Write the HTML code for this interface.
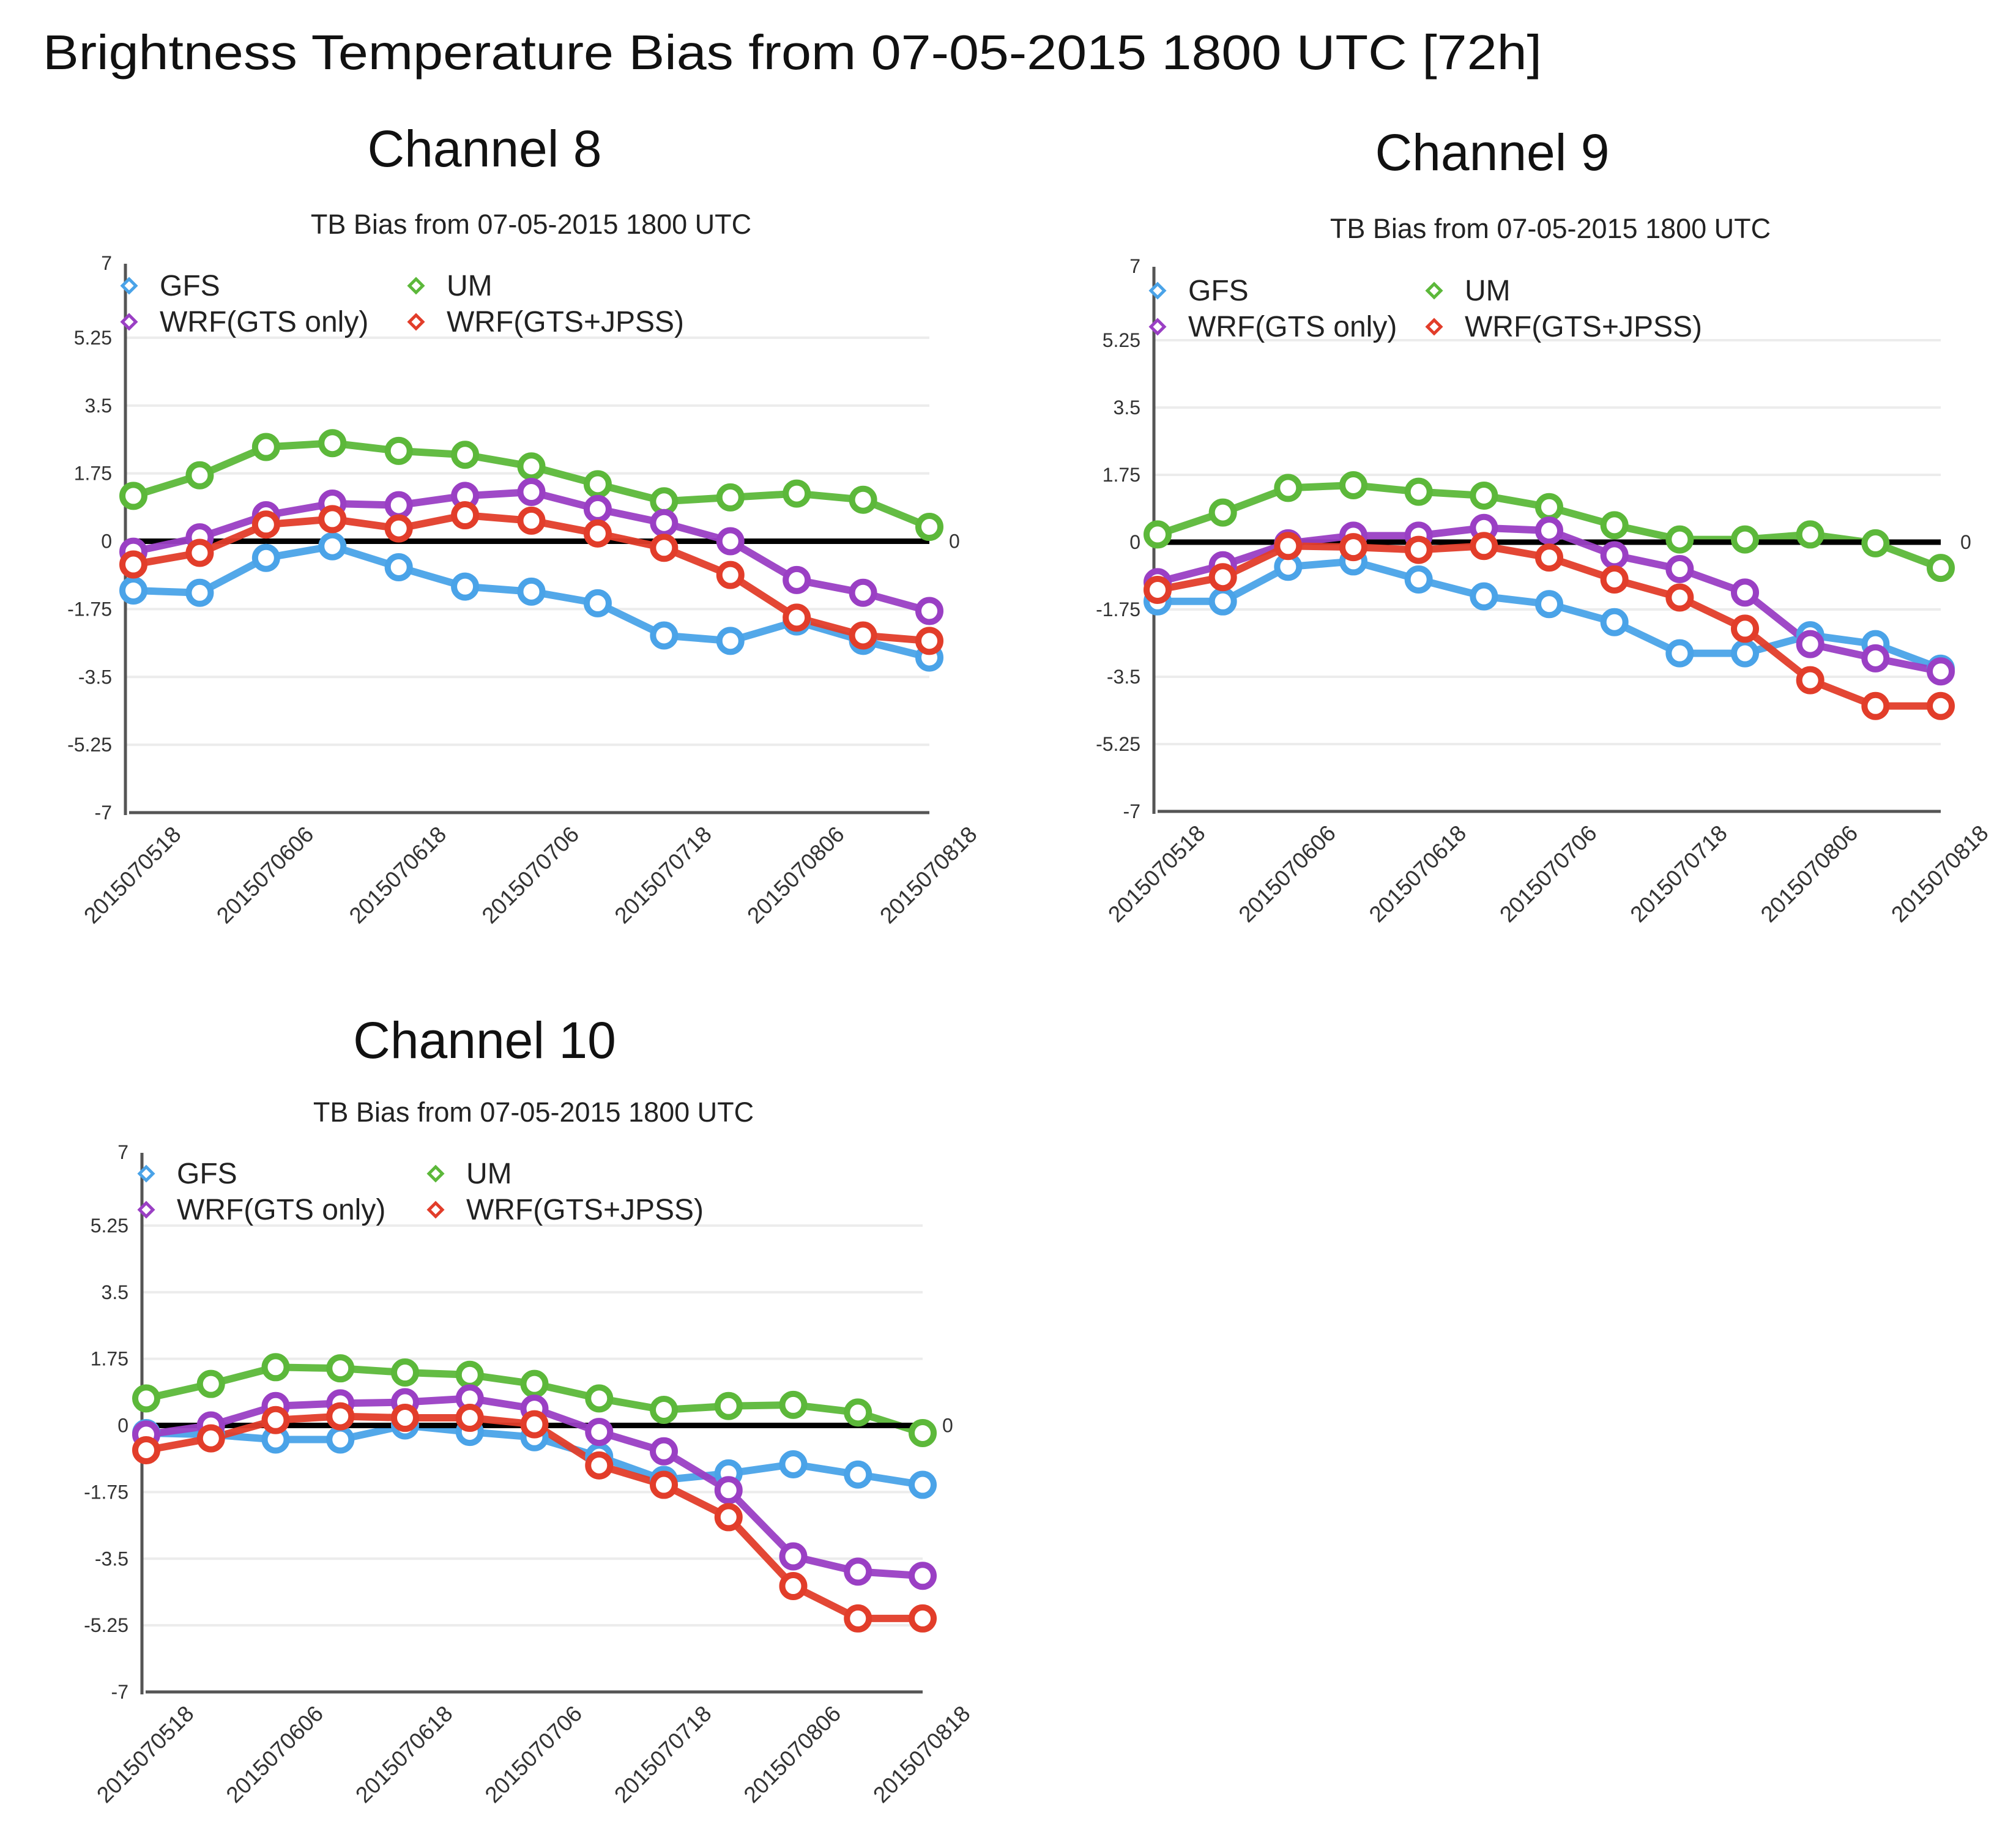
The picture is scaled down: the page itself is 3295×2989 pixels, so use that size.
<!DOCTYPE html>
<html><head><meta charset="utf-8">
<style>
html,body{margin:0;padding:0;background:#fff;}
svg{display:block;font-family:"Liberation Sans",sans-serif;}
</style></head>
<body>
<svg id="fig" width="3295" height="2989" viewBox="0 0 3295 2989" xmlns="http://www.w3.org/2000/svg">
<rect width="3295" height="2989" fill="#fff"/>
<text x="70" y="113" font-size="80" textLength="2450" lengthAdjust="spacingAndGlyphs" font-family="Liberation Sans, sans-serif" fill="#111">Brightness Temperature Bias from 07-05-2015 1800 UTC [72h]</text>
</svg>
<script>
const categories = ["2015070518","2015070600","2015070606","2015070612","2015070618","2015070700","2015070706","2015070712","2015070718","2015070800","2015070806","2015070812","2015070818"];
const yTicks = [7,5.25,3.5,1.75,0,-1.75,-3.5,-5.25,-7];
const tickLabels = ["7","5.25","3.5","1.75","0","-1.75","-3.5","-5.25","-7"];
const xLabelIdx = [0,2,4,6,8,10,12];
const seriesNames = ["GFS","UM","WRF(GTS only)","WRF(GTS+JPSS)"];
const seriesColors = ["#4aa3e8","#5cb83a","#9a3fc4","#e23d2a"];

const ch8GFS = [-1.27,-1.33,-0.43,-0.13,-0.67,-1.17,-1.3,-1.6,-2.43,-2.57,-2.07,-2.57,-3.0];
const ch8UM = [1.17,1.7,2.43,2.53,2.33,2.23,1.93,1.47,1.03,1.13,1.23,1.07,0.37];
const ch8GTS = [-0.27,0.1,0.67,0.97,0.93,1.17,1.27,0.83,0.47,0,-1.0,-1.33,-1.8];
const ch8JPSS = [-0.6,-0.3,0.43,0.57,0.33,0.67,0.53,0.2,-0.17,-0.87,-1.97,-2.43,-2.57];

const ch9GFS = [-1.54,-1.54,-0.64,-0.5,-0.97,-1.41,-1.61,-2.08,-2.89,-2.89,-2.42,-2.65,-3.29];
const ch9UM = [0.2,0.77,1.41,1.48,1.31,1.21,0.91,0.44,0.07,0.07,0.2,-0.03,-0.67];
const ch9GTS = [-1.04,-0.6,-0.03,0.17,0.17,0.37,0.3,-0.34,-0.7,-1.31,-2.65,-3.02,-3.36];
const ch9JPSS = [-1.24,-0.91,-0.1,-0.13,-0.2,-0.1,-0.4,-0.97,-1.44,-2.25,-3.59,-4.26,-4.26];

const ch10GFS = [-0.2,-0.24,-0.37,-0.37,0,-0.17,-0.31,-0.82,-1.43,-1.26,-1.02,-1.29,-1.56];
const ch10UM = [0.71,1.09,1.53,1.5,1.39,1.33,1.09,0.71,0.41,0.51,0.54,0.34,-0.2];
const ch10GTS = [-0.24,0,0.51,0.58,0.61,0.71,0.44,-0.17,-0.68,-1.7,-3.44,-3.84,-3.95];
const ch10JPSS = [-0.65,-0.34,0.14,0.24,0.2,0.2,0.03,-1.05,-1.56,-2.41,-4.22,-5.07,-5.07];

const NS = "http://www.w3.org/2000/svg";
const svg = document.getElementById("fig");
function mk(tag, attrs, parent){
  const e = document.createElementNS(NS, tag);
  for (const k in attrs) e.setAttribute(k, attrs[k]);
  (parent||svg).appendChild(e);
  return e;
}

function chart(cfg, series, key){
  const g = mk("g", {});
  
  
  const xs = i => cfg.x0 + (cfg.x1 - cfg.x0) * i / (categories.length - 1);
  const ys = v => cfg.top + (7 - v) / 14 * (cfg.bottom - cfg.top);
  const t = mk("text", {x:cfg.titleX, y:cfg.titleY, "font-size":84, "text-anchor":"middle", fill:"#111"}, g);
  t.textContent = cfg.title;
  
  
  const st = mk("text", {x:cfg.subX, y:cfg.subY, "font-size":45, "text-anchor":"middle", fill:"#222"}, g);
  st.textContent = "TB Bias from 07-05-2015 1800 UTC";
  
  
  yTicks.forEach((v, i) => {
    const y = ys(v);
    if (i > 0 && i < yTicks.length - 1) {
      const gl = mk("line", {x1:cfg.axisX, x2:cfg.x1, y1:y, y2:y, stroke:"#ececec", "stroke-width":4}, g);
      
      
    }
    const tl = mk("text", {x:cfg.axisX - 22, y:y + (i === 0 ? 0 : 11), "font-size":32, "text-anchor":"end", fill:"#333"}, g);
    tl.textContent = tickLabels[i];
    
    
  });
  const ax = mk("line", {x1:cfg.axisX, x2:cfg.axisX, y1:cfg.top - 10, y2:cfg.bottom + 4, stroke:"#555", "stroke-width":5}, g);
  
  
  const bx = mk("line", {x1:cfg.axisX + 6, x2:cfg.x1, y1:cfg.bottom, y2:cfg.bottom, stroke:"#555", "stroke-width":5}, g);
  
  
  xLabelIdx.forEach(i => {
    const x = xs(i) + 80, y = cfg.bottom + 38;
    const xl = mk("text", {x:x, y:y, "font-size":37, "text-anchor":"end", fill:"#333", transform:`rotate(-45 ${x} ${y})`}, g);
    xl.textContent = categories[i];
    
    
  });
  series.forEach((arr, s) => {
    const pts = arr.map((v, i) => xs(i) + "," + ys(v)).join(" ");
    const pl = mk("polyline", {points:pts, fill:"none", stroke:seriesColors[s], "stroke-width":12, "stroke-linejoin":"round", "stroke-opacity":0.95}, g);
    
    
    if (s === 1) drawZero();
  });
  function drawZero(){
    const z = mk("line", {x1:cfg.axisX + 10, x2:cfg.x1, y1:ys(0), y2:ys(0), stroke:"#000", "stroke-width":9}, g);
    
    
    const zl = mk("text", {x:cfg.x1 + 32, y:ys(0) + 11, "font-size":32, fill:"#333"}, g);
    zl.textContent = "0";
    
    
  }
  series.forEach((arr, s) => {
    arr.forEach((v, i) => {
      const c = mk("circle", {cx:xs(i), cy:ys(v), r:18, fill:"#fff", stroke:seriesColors[s], "stroke-width":10}, g);
      
      
    });
  });
  const pos = [[cfg.lx0, cfg.ly0],[cfg.lx1, cfg.ly0],[cfg.lx0, cfg.ly0 + 59],[cfg.lx1, cfg.ly0 + 59]];
  pos.forEach((p, s) => {
    const [x, y] = p;
    const d = mk("polygon", {points:`${x},${y-11} ${x+11},${y} ${x},${y+11} ${x-11},${y}`, fill:"#fff", stroke:seriesColors[s], "stroke-width":5}, g);
    
    
    const lt = mk("text", {x:x + 50, y:y + 16, "font-size":48, fill:"#222"}, g);
    lt.textContent = seriesNames[s];
    
    
  });
}

chart({title:"Channel 8", titleX:792, titleY:272, subX:868, subY:382, axisX:205, top:441, bottom:1328, x0:218, x1:1519, lx0:211, lx1:680, ly0:467},
  [ch8GFS, ch8UM, ch8GTS, ch8JPSS], "channel-8");
chart({title:"Channel 9", titleX:2439, titleY:278, subX:2534, subY:389, axisX:1886, top:446, bottom:1326, x0:1892, x1:3172, lx0:1892, lx1:2344, ly0:475},
  [ch9GFS, ch9UM, ch9GTS, ch9JPSS], "channel-9");
chart({title:"Channel 10", titleX:792, titleY:1729, subX:872, subY:1833, axisX:232, top:1894, bottom:2765, x0:239, x1:1508, lx0:239, lx1:712, ly0:1918},
  [ch10GFS, ch10UM, ch10GTS, ch10JPSS], "channel-10");
</script>
</body></html>
